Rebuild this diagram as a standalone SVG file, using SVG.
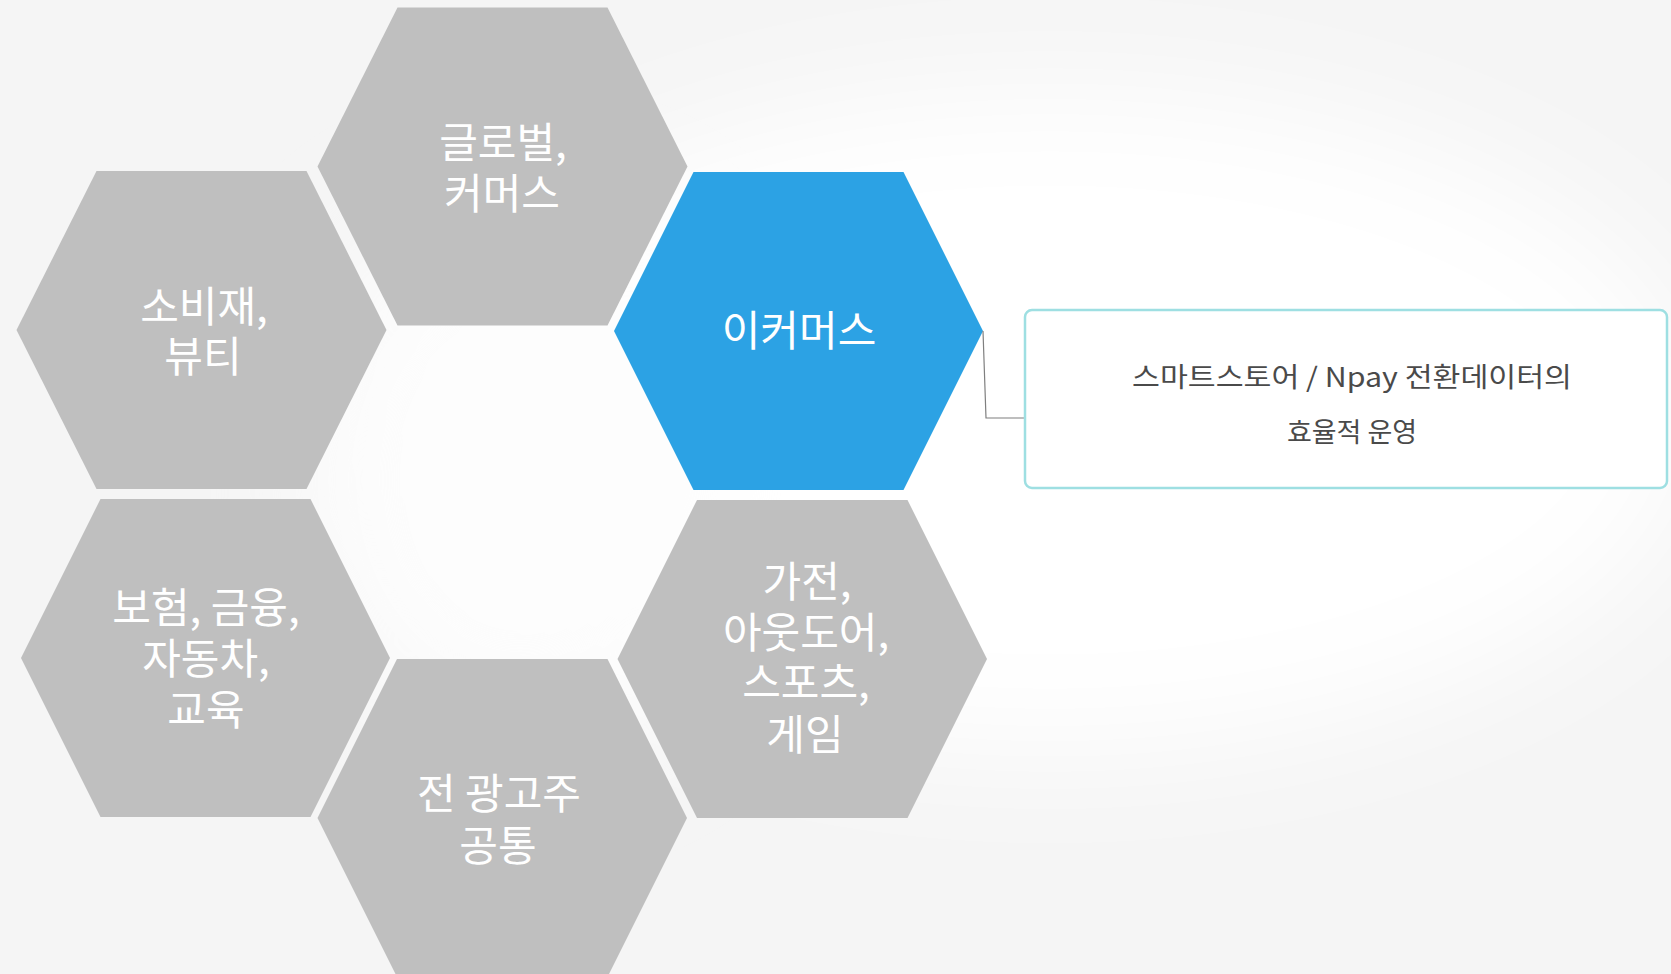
<svg xmlns="http://www.w3.org/2000/svg" width="1671" height="974" viewBox="0 0 1671 974">
  <style>
    .hex { fill: #bfbfbf; }
    .hexblue { fill: #2ca2e4; }
    .ht { font-family: "Noto Sans CJK KR", "Noto Sans", sans-serif; font-size: 42px; fill: #ffffff; text-anchor: middle; }
    .bt { font-family: "Noto Sans CJK KR", "Noto Sans", sans-serif; font-size: 27px; fill: #4a4a4a; text-anchor: middle; }
    .conn { fill: none; stroke: #7f7f7f; stroke-width: 1.2; }
    .box { fill: #ffffff; stroke: #9edfe2; stroke-width: 2.5; }
  </style>
  <defs>
    <filter id="blur" x="-50%" y="-50%" width="200%" height="200%">
      <feGaussianBlur stdDeviation="60"/>
    </filter>
  </defs>
  <g id="background">
    <rect x="0" y="0" width="1671" height="974" fill="#f5f5f5"/>
    <ellipse cx="1050" cy="420" rx="650" ry="330" fill="#ffffff" filter="url(#blur)"/>
    <ellipse cx="520" cy="480" rx="220" ry="260" fill="#fdfdfd" filter="url(#blur)"/>
  </g>

  <g id="hex-global">
    <polygon class="hex" points="397.5,7.5 607.5,7.5 687.5,166.5 607.5,325.5 397.5,325.5 317.5,166.5"/>
    <text class="ht" x="503" y="158">글로벌,</text>
    <text class="ht" x="502" y="209">커머스</text>
  </g>

  <g id="hex-consumer">
    <polygon class="hex" points="96.5,171 306.5,171 386.5,330 306.5,489 96.5,489 16.5,330"/>
    <text class="ht" x="204" y="322">소비재,</text>
    <text class="ht" x="203" y="372">뷰티</text>
  </g>

  <g id="hex-ecommerce">
    <polygon class="hexblue" points="693.5,172 903.5,172 983,331 903.5,490 693.5,490 614,331"/>
    <text class="ht" x="799" y="346">이커머스</text>
  </g>

  <g id="hex-finance">
    <polygon class="hex" points="100.5,499 310.5,499 390,658 310.5,817 100.5,817 21,658"/>
    <text class="ht" x="206" y="623">보험, 금융,</text>
    <text class="ht" x="206" y="674">자동차,</text>
    <text class="ht" x="206" y="725">교육</text>
  </g>

  <g id="hex-all">
    <polygon class="hex" points="397,659 607.5,659 687,818 607.5,977 397,977 317.5,818"/>
    <text class="ht" x="499" y="809">전 광고주</text>
    <text class="ht" x="498" y="861">공통</text>
  </g>

  <g id="hex-appliance">
    <polygon class="hex" points="697,500 907.5,500 987,659 907.5,818 697,818 617.5,659"/>
    <text class="ht" x="807" y="597">가전,</text>
    <text class="ht" x="806" y="648">아웃도어,</text>
    <text class="ht" x="806" y="698">스포츠,</text>
    <text class="ht" x="805" y="750">게임</text>
  </g>

  <g id="connectors">
    <polyline class="conn" points="983,331 986,418 1025,418"/>
  </g>

  <g id="note-box">
    <rect class="box" x="1025" y="310" width="642" height="178" rx="7" ry="7"/>
    <text class="bt" x="1352" y="387" textLength="440" lengthAdjust="spacingAndGlyphs">스마트스토어 / Npay 전환데이터의</text>
    <text class="bt" x="1352" y="442">효율적 운영</text>
  </g>
</svg>
